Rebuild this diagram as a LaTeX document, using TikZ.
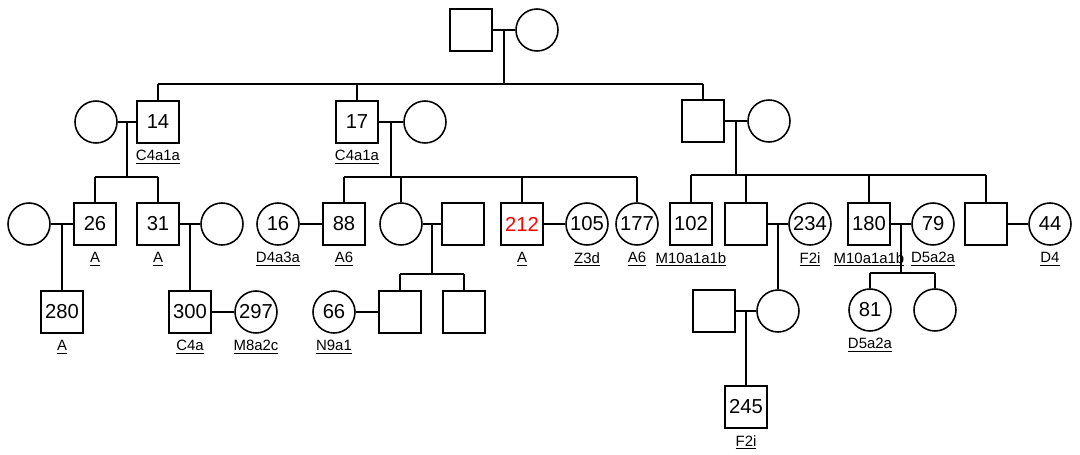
\documentclass[tikz,border=0pt]{standalone}
\usepackage{fontspec}
\setsansfont{Liberation Sans}
\usepackage{xcolor}
\definecolor{probandred}{HTML}{FF0000}
\usetikzlibrary{positioning, calc}
\tikzset{
  every node/.style={font=\sffamily},
  male/.style={
    rectangle, draw, line width=0.9pt, minimum size=0.84cm,
    inner sep=0pt, font=\sffamily\fontsize{11.5}{13}\selectfont
  },
  female/.style={
    circle, draw, line width=0.9pt, minimum size=0.84cm,
    inner sep=0pt, font=\sffamily\fontsize{11.5}{13}\selectfont
  },
  haplo/.style={font=\sffamily\fontsize{8.5}{10}\selectfont, inner sep=1pt},
  kinline/.style={line width=1pt}
}
\newcommand{\hg}[1]{\underline{#1}}

\begin{document}
\begin{tikzpicture}[x=0.02cm, y=-0.02cm]
\useasboundingbox (0,0) rectangle (1080,454);

% ── Generation I ─────────────────────────────────────────────────────────────
\node[male] (gm) at (471,30) {};
\node[female] (gw) at (537,30) {};
\draw[kinline] (gm.east) -- (gw.west);
\coordinate (u0) at ($(gm.east)!0.5!(gw.west)$);
\coordinate (bar1) at (0,84);

% ── Generation II ────────────────────────────────────────────────────────────
\node[female] (w14) at (96,122) {};
\node[male] (p14) at (158,122) {14};
\node[haplo, below=2.5pt of p14] (l14) {\hg{C4a1a}};

\node[male] (p17) at (357,122) {17};
\node[female] (w17) at (425,122) {};
\node[haplo, below=2.5pt of p17] (l17) {\hg{C4a1a}};

\node[male] (m3) at (703,121) {};
\node[female] (w3) at (769,121) {};

\draw[kinline] (u0) -- (u0 |- bar1);
\draw[kinline] (p14 |- bar1) -- (m3 |- bar1);
\foreach \k in {p14,p17,m3}
  \draw[kinline] (\k.north) -- (\k |- bar1);

\draw[kinline] (w14.east) -- (p14.west);
\draw[kinline] (p17.east) -- (w17.west);
\draw[kinline] (m3.east) -- (w3.west);
\coordinate (u14) at ($(w14.east)!0.5!(p14.west)$);
\coordinate (u17) at ($(p17.east)!0.5!(w17.west)$);
\coordinate (u3) at ($(m3.east)!0.5!(w3.west)$);
\coordinate (bar2a) at (0,177);
\coordinate (bar2b) at (0,177);
\coordinate (bar2c) at (0,175);

% ── Generation III, left branch ──────────────────────────────────────────────
\node[female] (w26) at (29,224) {};
\node[male] (p26) at (95,224) {26};
\node[male] (p31) at (158,224) {31};
\node[female] (w31) at (222,224) {};
\node[haplo, below=2.5pt of p26] (l26) {\hg{A}};
\node[haplo, below=2.5pt of p31] (l31) {\hg{A}};

\draw[kinline] (u14) -- (u14 |- bar2a);
\draw[kinline] (p26 |- bar2a) -- (p31 |- bar2a);
\foreach \k in {p26,p31}
  \draw[kinline] (\k.north) -- (\k |- bar2a);
\draw[kinline] (w26.east) -- (p26.west);
\draw[kinline] (p31.east) -- (w31.west);
\coordinate (u26) at ($(w26.east)!0.5!(p26.west)$);
\coordinate (u31) at ($(p31.east)!0.5!(w31.west)$);

\node[male] (p280) at (62,312) {280};
\node[haplo, below=2.5pt of p280] (l280) {\hg{A}};
\node[male] (p300) at (190,312) {300};
\node[haplo, below=2.5pt of p300] (l300) {\hg{C4a}};
\node[female] (w297) at (256,312) {297};
\node[haplo, below=2.5pt of w297] (l297) {\hg{M8a2c}};
\draw[kinline] (u26) -- (u26 |- p280.north);
\draw[kinline] (u31) -- (u31 |- p300.north);
\draw[kinline] (p300.east) -- (w297.west);

% ── Generation III, middle branch ────────────────────────────────────────────
\node[female] (w16) at (278,224) {16};
\node[male] (p88) at (344,224) {88};
\node[female] (d17) at (401,224) {};
\node[male] (h17) at (463,224) {};
\node[male, text=probandred] (p212) at (522,224) {212};
\node[female] (w105) at (587,224) {105};
\node[female] (w177) at (637,224) {177};
\node[haplo, below=2.5pt of w16] (l16) {\hg{D4a3a}};
\node[haplo, below=2.5pt of p88] (l88) {\hg{A6}};
\node[haplo, below=2.5pt of p212] (l212) {\hg{A}};
\node[haplo, below=2.5pt of w105] (l105) {\hg{Z3d}};
\node[haplo, below=2.5pt of w177] (l177) {\hg{A6}};

\draw[kinline] (u17) -- (u17 |- bar2b);
\draw[kinline] (p88 |- bar2b) -- (w177 |- bar2b);
\foreach \k in {p88,d17,p212,w177}
  \draw[kinline] (\k.north) -- (\k |- bar2b);
\draw[kinline] (w16.east) -- (p88.west);
\draw[kinline] (d17.east) -- (h17.west);
\draw[kinline] (p212.east) -- (w105.west);
\coordinate (ud17) at ($(d17.east)!0.5!(h17.west)$);
\coordinate (bar3b) at (0,274);

\node[female] (w66) at (334,312) {66};
\node[male] (g1) at (400,312) {};
\node[male] (g2) at (464,312) {};
\node[haplo, below=2.5pt of w66] (l66) {\hg{N9a1}};
\draw[kinline] (ud17) -- (ud17 |- bar3b);
\draw[kinline] (g1 |- bar3b) -- (g2 |- bar3b);
\foreach \k in {g1,g2}
  \draw[kinline] (\k.north) -- (\k |- bar3b);
\draw[kinline] (w66.east) -- (g1.west);

% ── Generation III, right branch ─────────────────────────────────────────────
\node[male] (p102) at (691,224) {102};
\node[male] (s3) at (746,224) {};
\node[female] (w234) at (810,224) {234};
\node[male] (p180) at (869,224) {180};
\node[female] (w79) at (933,224) {79};
\node[male] (t3) at (986,224) {};
\node[female] (w44) at (1050,224) {44};
\node[haplo, below=2.5pt of p102] (l102) {\hg{M10a1a1b}};
\node[haplo, below=2.5pt of w234] (l234) {\hg{F2i}};
\node[haplo, below=2.5pt of p180] (l180) {\hg{M10a1a1b}};
\node[haplo, below=2.5pt of w79] (l79) {\hg{D5a2a}};
\node[haplo, below=2.5pt of w44] (l44) {\hg{D4}};

\draw[kinline] (u3) -- (u3 |- bar2c);
\draw[kinline] (p102 |- bar2c) -- (t3 |- bar2c);
\foreach \k in {p102,s3,p180,t3}
  \draw[kinline] (\k.north) -- (\k |- bar2c);
\draw[kinline] (s3.east) -- (w234.west);
\draw[kinline] (p180.east) -- (w79.west);
\draw[kinline] (t3.east) -- (w44.west);
\coordinate (u234) at ($(s3.east)!0.5!(w234.west)$);
\coordinate (u180) at ($(p180.east)!0.5!(w79.west)$);
\coordinate (bar3c) at (0,273);

\node[male] (h234) at (714,311) {};
\node[female] (d234) at (778,311) {};
\draw[kinline] (u234) -- (u234 |- d234.north);
\draw[kinline] (h234.east) -- (d234.west);
\coordinate (ud234) at ($(h234.east)!0.5!(d234.west)$);

\node[female] (w81) at (870,310) {81};
\node[female] (c180) at (935,310) {};
\node[haplo, below=2.5pt of w81] (l81) {\hg{D5a2a}};
\draw[kinline] (u180) -- (u180 |- bar3c);
\draw[kinline] (w81 |- bar3c) -- (c180 |- bar3c);
\foreach \k in {w81,c180}
  \draw[kinline] (\k.north) -- (\k |- bar3c);

% ── Generation V ─────────────────────────────────────────────────────────────
\node[male] (p245) at (746,407) {245};
\node[haplo, below=2.5pt of p245] (l245) {\hg{F2i}};
\draw[kinline] (ud234) -- (ud234 |- p245.north);

\end{tikzpicture}
\end{document}
